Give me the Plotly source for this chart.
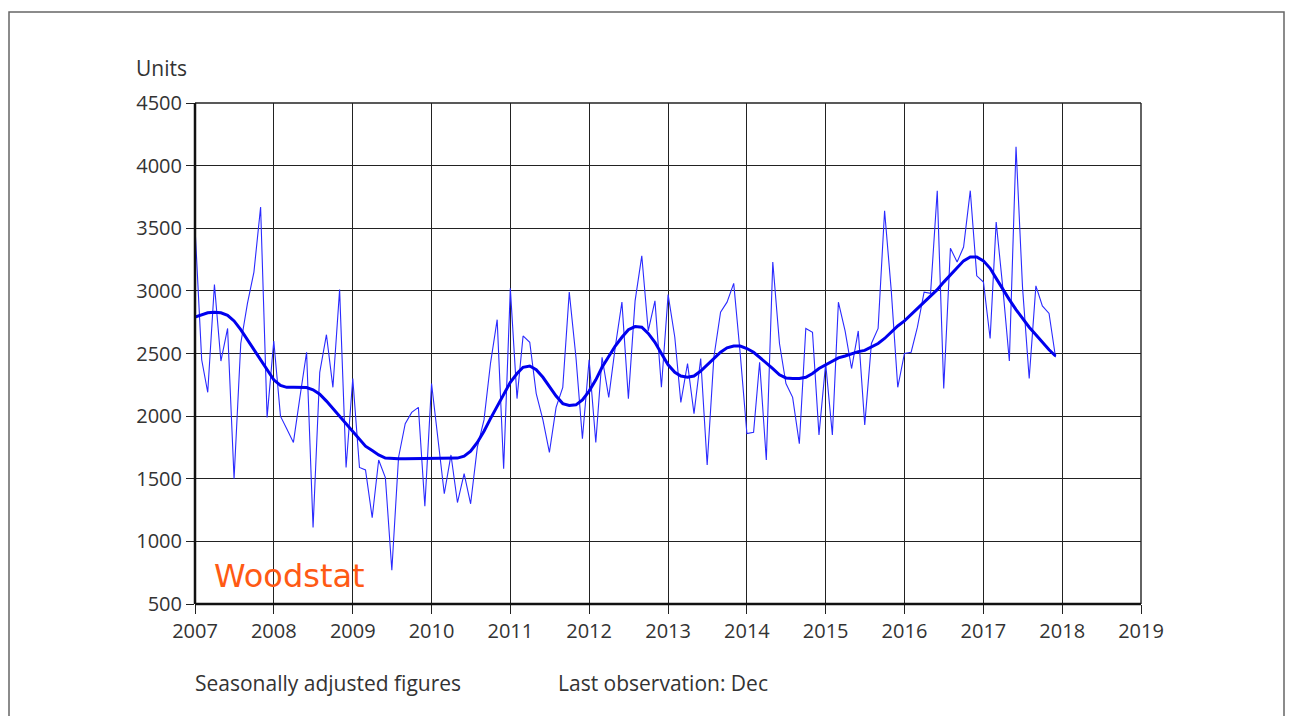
import plotly.graph_objects as go
import pandas as pd

months = pd.date_range("2007-01-01", "2017-12-01", freq="MS")

monthly = [
    3510, 2450, 2190, 3050, 2440, 2700, 1500, 2580, 2900, 3150, 3670, 1990,   # 2007
    2600, 2000, 1900, 1790, 2150, 2510, 1110, 2350, 2650, 2230, 3010, 1590,   # 2008
    2300, 1590, 1570, 1190, 1650, 1510, 770, 1670, 1940, 2030, 2070, 1280,    # 2009
    2260, 1790, 1380, 1690, 1310, 1540, 1300, 1750, 1970, 2420, 2770, 1580,   # 2010
    3020, 2140, 2640, 2590, 2180, 1970, 1710, 2070, 2230, 2990, 2470, 1820,   # 2011
    2450, 1790, 2470, 2150, 2550, 2910, 2140, 2920, 3280, 2680, 2920, 2230,   # 2012
    2970, 2630, 2110, 2420, 2020, 2460, 1610, 2470, 2830, 2910, 3060, 2500,   # 2013
    1860, 1870, 2430, 1650, 3230, 2580, 2260, 2150, 1780, 2700, 2670, 1850,   # 2014
    2420, 1850, 2910, 2680, 2380, 2680, 1930, 2580, 2700, 3640, 3000, 2230,   # 2015
    2500, 2510, 2710, 2990, 2980, 3800, 2220, 3340, 3230, 3350, 3800, 3120,   # 2016
    3070, 2620, 3550, 3020, 2440, 4150, 3030, 2300, 3040, 2880, 2820, 2470,   # 2017
]

trend = [
    2790, 2810, 2825, 2830, 2825, 2805, 2760, 2690, 2610, 2530, 2450, 2370,   # 2007
    2290, 2245, 2230, 2230, 2230, 2228, 2210, 2175, 2120, 2060, 2000, 1940,   # 2008
    1875, 1810, 1760, 1725, 1690, 1665, 1660, 1660, 1660, 1660, 1660, 1660,   # 2009
    1660, 1660, 1660, 1660, 1665, 1680, 1720, 1790, 1880, 1980, 2080, 2180,   # 2010
    2270, 2340, 2390, 2400, 2370, 2310, 2240, 2160, 2100, 2085, 2090, 2130,   # 2011
    2200, 2290, 2390, 2480, 2560, 2630, 2690, 2715, 2710, 2660, 2590, 2500,   # 2012
    2410, 2350, 2320, 2310, 2320, 2360, 2410, 2460, 2510, 2545, 2560, 2560,   # 2013
    2540, 2510, 2470, 2430, 2380, 2330, 2305, 2300, 2300, 2310, 2340, 2380,   # 2014
    2410, 2440, 2465, 2480, 2500, 2515, 2525, 2550, 2580, 2620, 2670, 2720,   # 2015
    2760, 2810, 2860, 2910, 2960, 3010, 3070, 3130, 3190, 3240, 3270, 3270,   # 2016
    3240, 3180, 3100, 3010, 2930, 2850, 2780, 2710, 2650, 2590, 2530, 2480,   # 2017
]

year_ticks = [str(y) for y in range(2007, 2020)]
y_ticks = list(range(500, 4501, 500))

# page body has an 8px margin on every side; keep the figure inside the window
OFF = 8
W, H = 1293 - 2 * OFF, 724 - 2 * OFF
L, R, T, B = 195 - OFF, 1141 - OFF, 103 - OFF, 604 - OFF
pw, ph = R - L, B - T

def px(x):
    return (x - OFF - L) / pw

def py(y):
    return (B - (y - OFF)) / ph

FONT = "Open Sans, DejaVu Sans, sans-serif"
FS = 20
FA = 21

fig = go.Figure()
fig.add_trace(go.Scatter(x=months, y=monthly, mode="lines",
                         line=dict(color="#2a2aff", width=1.1), showlegend=False))
fig.add_trace(go.Scatter(x=months, y=trend, mode="lines",
                         line=dict(color="#0000ee", width=3), showlegend=False))

fig.update_layout(
    width=W, height=H,
    margin=dict(l=L, r=W - R, t=T, b=H - B, pad=0),
    paper_bgcolor="white", plot_bgcolor="white",
    font=dict(family=FONT, size=FS, color="#333333"),
    xaxis=dict(
        type="date",
        range=[f"{year_ticks[0]}-01-01", f"{year_ticks[-1]}-01-01"],
        tickvals=[f"{y}-01-01" for y in year_ticks],
        ticktext=year_ticks,
        showgrid=True, gridcolor="#222222", gridwidth=1.4,
        ticks="outside", ticklen=9, tickcolor="#222222", tickwidth=1.4,
        showline=False, zeroline=False,
        tickfont=dict(size=FS, color="#333333"),
    ),
    yaxis=dict(
        range=[y_ticks[0], y_ticks[-1]],
        tickvals=y_ticks,
        showgrid=True, gridcolor="#222222", gridwidth=1.4,
        ticks="outside", ticklen=8, tickcolor="#222222", tickwidth=1.4,
        showline=False, zeroline=False,
        tickfont=dict(size=FS, color="#333333"),
    ),
    shapes=[
        # outer border (kept within the figure area)
        dict(type="rect", xref="paper", yref="paper",
             x0=px(OFF + 1), x1=px(OFF + W - 1), y0=py(OFF + H + 20), y1=py(12),
             line=dict(color="#666666", width=1.5), layer="below"),
        # white box behind logo
        dict(type="rect", xref="paper", yref="paper",
             x0=px(198), x1=px(380), y0=py(598), y1=py(553),
             fillcolor="white", line=dict(width=0), layer="between"),
        # top and right frame
        dict(type="line", xref="paper", yref="paper", x0=0, x1=1, y0=1, y1=1,
             line=dict(color="#222222", width=1.4), layer="above"),
        dict(type="line", xref="paper", yref="paper", x0=1, x1=1, y0=0, y1=1,
             line=dict(color="#222222", width=1.4), layer="above"),
        # thick left and bottom axes
        dict(type="line", xref="paper", yref="paper", x0=0, x1=0, y0=0, y1=1,
             line=dict(color="#111111", width=2.5), layer="above"),
        dict(type="line", xref="paper", yref="paper", x0=0, x1=1, y0=0, y1=0,
             line=dict(color="#111111", width=2.5), layer="above"),
    ],
    annotations=[
        dict(text="Units", xref="paper", yref="paper", x=px(134), y=py(68),
             xanchor="left", yanchor="middle", showarrow=False,
             font=dict(size=FA, color="#333333")),
        dict(text="Woodstat", xref="paper", yref="paper", x=px(212), y=py(576),
             xanchor="left", yanchor="middle", showarrow=False,
             font=dict(size=32, color="#ff5a14", family="DejaVu Sans, sans-serif")),
        dict(text="Seasonally adjusted figures", xref="paper", yref="paper",
             x=px(193), y=py(683), xanchor="left", yanchor="middle", showarrow=False,
             font=dict(size=FA, color="#333333")),
        dict(text="Last observation: Dec", xref="paper", yref="paper",
             x=px(556), y=py(683), xanchor="left", yanchor="middle", showarrow=False,
             font=dict(size=FA, color="#333333")),
    ],
)

fig.write_html("out.html")
